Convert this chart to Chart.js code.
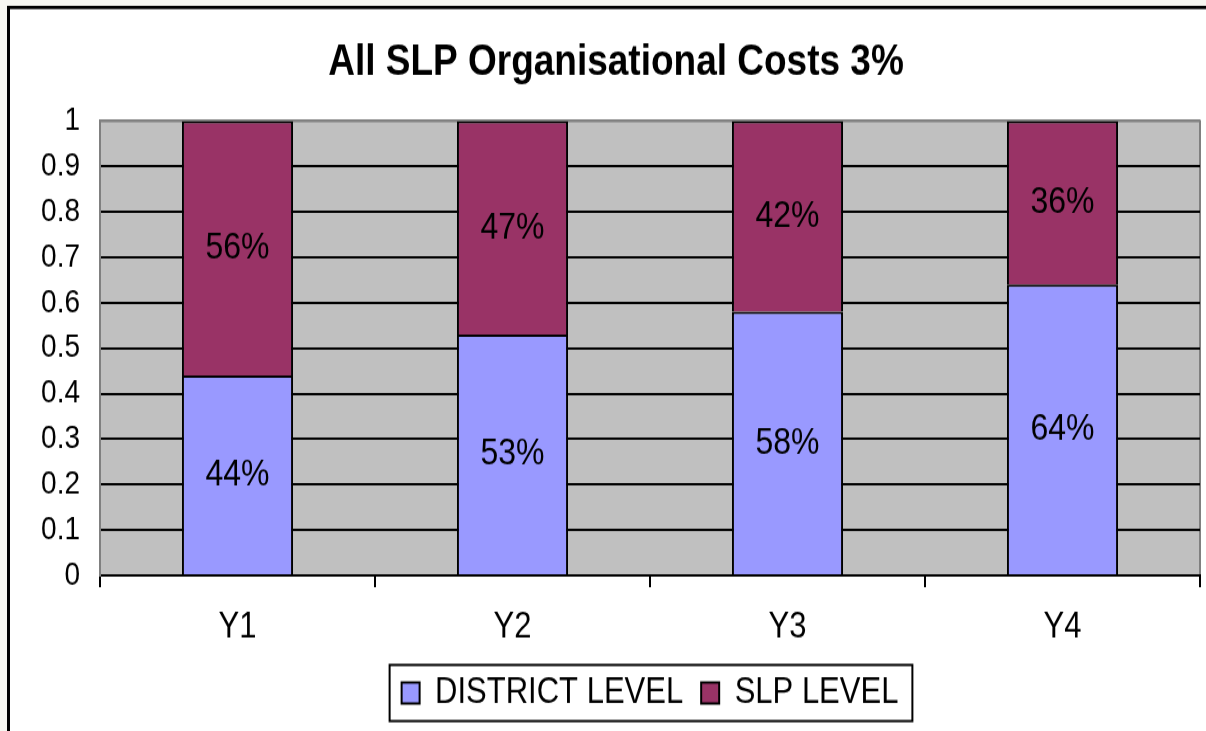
<!DOCTYPE html>
<html>
<head>
<meta charset="utf-8">
<script src="https://cdn.jsdelivr.net/npm/chart.js@4.4.0/dist/chart.umd.min.js"></script>
<style>
  body { margin: 0; overflow: hidden; background: #f7f7f1; }
  #chart { position: absolute; left: 0; top: 0; width: 1232px; height: 731px; }
</style>
</head>
<body>
<!-- el original esta estirado en vertical: se dibuja a 625px de alto y se estira a 731 -->
<canvas id="chart" width="1232" height="625" style="width:1232px;height:731px"></canvas>
<script>
const titulo = "All SLP Organisational Costs 3%";
const categorias = ["Y1", "Y2", "Y3", "Y4"];
const district = [0.44, 0.53, 0.58, 0.64];
const slp = [0.56, 0.47, 0.42, 0.36];
const districtLabels = ["44%", "53%", "58%", "64%"];
const slpLabels = ["56%", "47%", "42%", "36%"];

const FONT = "'Liberation Sans', Arial, sans-serif";

// marco, fondo gris del area y borde gris
const fondo = {
  id: 'fondo',
  beforeDraw(chart) {
    const { ctx, chartArea: a, width, height } = chart;
    ctx.save();
    ctx.fillStyle = '#f7f7f1';
    ctx.fillRect(0, 0, width, height);
    ctx.fillStyle = '#ffffff';
    ctx.fillRect(8, 6, width, height);
    ctx.strokeStyle = '#000';
    ctx.lineWidth = 3;
    ctx.beginPath();
    ctx.moveTo(8.5, 5); ctx.lineTo(8.5, height);
    ctx.stroke();
    ctx.lineWidth = 2.6;
    ctx.beginPath();
    ctx.moveTo(7, 6.4); ctx.lineTo(width, 6.4);
    ctx.stroke();
    ctx.fillStyle = '#c0c0c0';
    ctx.fillRect(a.left, a.top, a.right - a.left, a.bottom - a.top);
    ctx.strokeStyle = '#808080';
    ctx.lineWidth = 2;
    ctx.beginPath();
    ctx.moveTo(a.left, a.top); ctx.lineTo(a.right, a.top); ctx.lineTo(a.right, a.bottom);
    ctx.stroke();
    ctx.restore();
  },
  afterDraw(chart) {
    // recuadro de la leyenda
    const boxes = chart.legend.legendHitBoxes;
    if (!boxes || !boxes.length) return;
    const left = Math.min(...boxes.map(b => b.left));
    const right = Math.max(...boxes.map(b => b.left + b.width));
    const cy = boxes[0].top + boxes[0].height / 2;
    const ctx = chart.ctx;
    ctx.save();
    ctx.strokeStyle = '#000';
    ctx.lineWidth = 2;
    ctx.strokeRect(left - 12, cy - 24, right - left + 26, 48);
    ctx.restore();
  }
};

// etiquetas de porcentaje dentro de cada barra
const etiquetas = {
  id: 'etiquetas',
  afterDatasetsDraw(chart) {
    const ctx = chart.ctx;
    const textos = [districtLabels, slpLabels];
    ctx.save();
    ctx.font = '32px ' + FONT;
    ctx.fillStyle = '#000';
    ctx.textAlign = 'center';
    ctx.textBaseline = 'middle';
    chart.data.datasets.forEach((ds, i) => {
      chart.getDatasetMeta(i).data.forEach((bar, j) => {
        const { x, y, base } = bar.getProps(['x', 'y', 'base'], true);
        ctx.fillText(textos[i][j], x, (y + base) / 2);
      });
    });
    ctx.restore();
  }
};

const chart = new Chart(document.getElementById('chart').getContext('2d'), {
  type: 'bar',
  data: {
    labels: categorias,
    datasets: [
      { label: 'DISTRICT LEVEL', data: district, backgroundColor: '#9999ff', borderColor: '#000', borderWidth: 2 },
      { label: 'SLP LEVEL', data: slp, backgroundColor: '#993366', borderColor: '#000', borderWidth: 2 }
    ]
  },
  options: {
    responsive: false,
    animation: false,
    devicePixelRatio: 1,
    categoryPercentage: 1,
    barPercentage: 0.404,
    layout: { padding: { left: 32, right: 32, top: 0, bottom: 7 } },
    scales: {
      x: {
        stacked: true,
        grid: { drawOnChartArea: false, color: '#000', lineWidth: 2, tickLength: 10, offset: true },
        border: { color: '#000', width: 2 },
        ticks: { color: '#000', font: { family: FONT, size: 31 }, padding: 16 },
        afterFit: s => { s.height = 67; }
      },
      y: {
        stacked: true,
        min: 0,
        max: 1,
        grid: {
          color: c => (c.tick && c.tick.value === 1) ? '#808080' : '#000',
          lineWidth: 2,
          drawTicks: false
        },
        border: { color: '#808080', width: 2 },
        ticks: {
          stepSize: 0.1,
          color: '#000',
          font: { family: FONT, size: 28 },
          padding: 20,
          callback: v => String(Math.round(v * 10) / 10)
        },
        afterFit: s => { s.width = 68; }
      }
    },
    plugins: {
      title: {
        display: true,
        text: titulo,
        color: '#000',
        font: { family: FONT, size: 37, weight: 'bold' },
        padding: { top: 32, bottom: 27 }
      },
      legend: {
        position: 'bottom',
        fullSize: false,
        labels: {
          color: '#000',
          font: { family: FONT, size: 31 },
          boxWidth: 18,
          boxHeight: 18,
          padding: 18
        }
      },
      tooltip: { enabled: false }
    }
  },
  plugins: [fondo, etiquetas]
});
</script>
</body>
</html>
